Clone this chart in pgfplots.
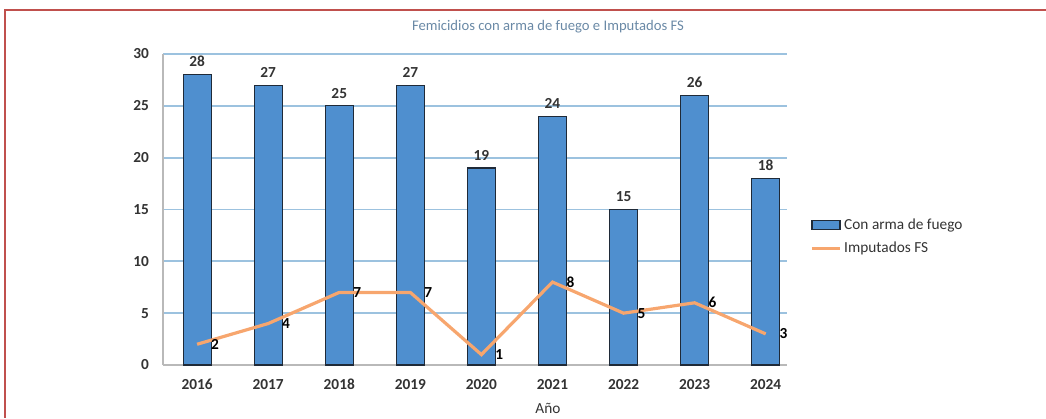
\documentclass[border=0pt]{standalone}
\usepackage{pgfplots}
\pgfplotsset{compat=1.18}
\usepackage{fontspec}
\setmainfont{Carlito}
\definecolor{barblue}{HTML}{4F8FCF}
\definecolor{barline}{HTML}{1F2A38}
\definecolor{lineor}{HTML}{F7A66E}
\definecolor{gridc}{HTML}{9CC2DF}
\definecolor{framered}{HTML}{C0504D}
\definecolor{titlec}{HTML}{6A89A6}
\definecolor{txt}{HTML}{333333}
\begin{document}
\begin{tikzpicture}[x=0.75pt,y=0.75pt]
\useasboundingbox (0,0) rectangle (1046,418);
\draw[framered, line width=1pt] (1046,408) -- (5,408) -- (5,0);
\node[font=\fontsize{11}{13}\selectfont, text=titlec] at (548,391) {Femicidios con arma de fuego e Imputados FS};
\node[font=\fontsize{11.5}{13}\selectfont, text=txt] at (548,10) {Año};
\begin{axis}[
  at={(122.25pt,39.75pt)}, anchor=south west,
  scale only axis, width=468pt, height=233.25pt,
  xmin=-0.48, xmax=8.3, ymin=0, ymax=30,
  ytick={0,5,...,30},
  xtick={0,...,8},
  xticklabels={2016,2017,2018,2019,2020,2021,2022,2023,2024},
  major tick length=0pt,
  /pgf/number format/assume math mode=true,
  axis lines*=left,
  axis line style={gray!55, line width=0.8pt},
  ymajorgrids,
  major grid style={draw=gridc, line width=1.3pt},
  tick label style={font=\fontsize{11.5}{13}\selectfont\bfseries, text=txt},
  yticklabel style={xshift=-7pt},
  xticklabel style={yshift=-7pt},
  legend style={at={(1.037,0.48)}, anchor=north west, draw=none, fill=none,
    font=\fontsize{11.5}{13}\selectfont, text=txt, row sep=4pt,
    inner sep=0pt, cells={anchor=west}},
]
\addplot[ybar, bar width=21pt, fill=barblue, draw=barline, line width=0.8pt,
  nodes near coords,
  every node near coord/.append style={font=\fontsize{11.5}{13}\selectfont\bfseries, text=txt, yshift=2pt},
  legend image code/.code={\draw[fill=barblue,draw=barline,line width=0.8pt] (0pt,-3.5pt) rectangle (21pt,3.5pt);}]
  coordinates {(0,28) (1,27) (2,25) (3,27) (4,19) (5,24) (6,15) (7,26) (8,18)};
\addlegendentry{Con arma de fuego}
\addplot[lineor, line width=2.4pt, mark=none,
  nodes near coords, nodes near coords align={horizontal},
  every node near coord/.append style={font=\fontsize{11.5}{13}\selectfont\bfseries, text=black, xshift=6pt},
  legend image code/.code={\draw[lineor,line width=2.4pt] (0pt,0pt) -- (21pt,0pt);}]
  coordinates {(0,2) (1,4) (2,7) (3,7) (4,1) (5,8) (6,5) (7,6) (8,3)};
\addlegendentry{Imputados FS}
\end{axis}
\end{tikzpicture}
\end{document}
